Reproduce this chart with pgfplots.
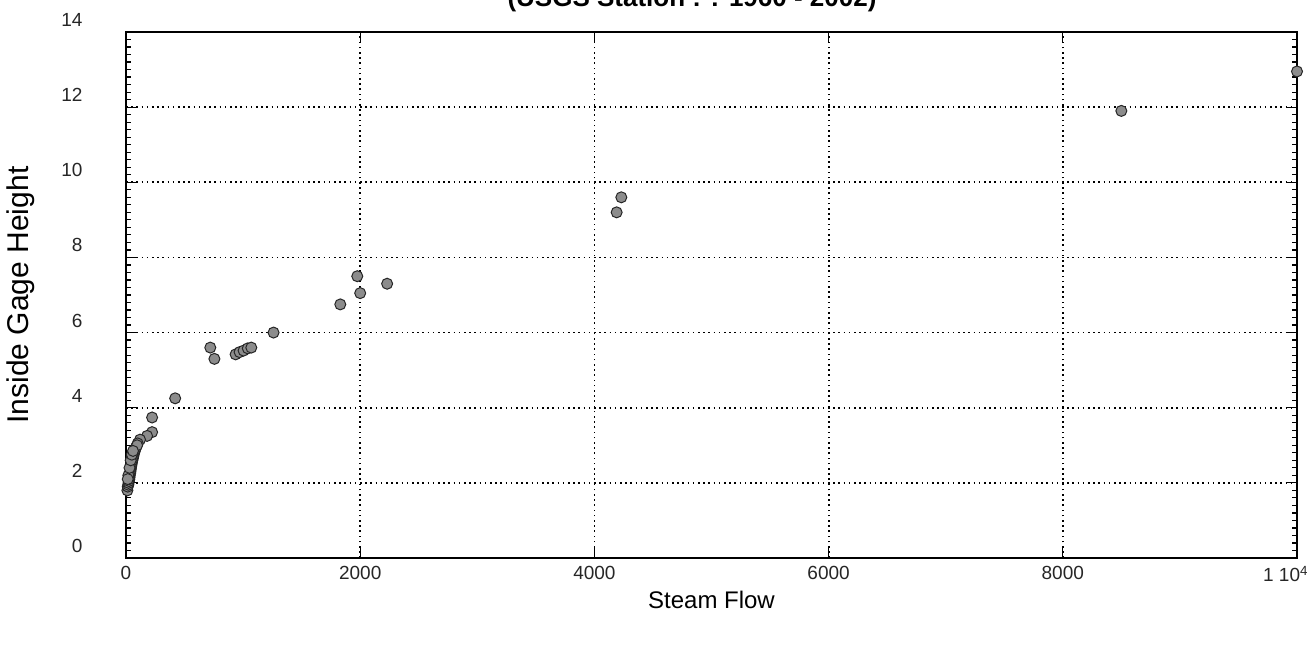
\documentclass[border=0pt]{standalone}
\usepackage{pgfplots}
\pgfplotsset{compat=1.18}
\usepackage{fontspec}
\setmainfont{Liberation Sans}
\begin{document}
\begin{tikzpicture}
\begin{axis}[
  at={(0pt,0pt)}, anchor=south west,
  scale only axis, width=1171pt, height=526pt,
  xmin=0, xmax=10000, ymin=0, ymax=14,
  xtick={0,2000,4000,6000,8000,10000},
  xticklabels={0,2000,4000,6000,8000,{\makebox[22pt][r]{1 10\textsuperscript{4}}}},
  ytick={0,2,4,6,8,10,12,14},
  scaled x ticks=false,
  minor y tick num=9,
  grid=major,
  grid style={black, line width=1.8pt, dash pattern=on 1.6pt off 3.6pt},
  axis line style={black, line width=2pt},
  major tick length=10pt, minor tick length=5pt,
  tick style={black, line width=1.2pt},
  tick align=inside,
  /pgf/number format/assume math mode=true,
  ticklabel style={font=\fontsize{19}{22}\selectfont, text=black!85},
  yticklabel style={xshift=-40pt, yshift=12pt},
  xticklabel style={yshift=-5pt},
  xlabel={Steam Flow},
  ylabel={Inside Gage Height},
  xlabel style={font=\fontsize{24}{28}\selectfont, yshift=-2pt},
  ylabel style={font=\fontsize{30}{34}\selectfont, yshift=20pt},
  clip=false,
]
\addplot[only marks, mark=*, mark size=5.5pt,
  mark options={fill=black!45, draw=black!85, line width=1pt}]
coordinates {
(10000,12.95) (8500,11.9)
(4230,9.6) (4190,9.2)
(1975,7.5) (2000,7.05) (1830,6.75) (2230,7.3)
(1260,6.0)
(720,5.6) (755,5.3) (936,5.42) (970,5.48) (1004,5.52) (1040,5.58) (1070,5.6)
(420,4.25)
(223,3.74) (223,3.35) (180,3.25) (120,3.15) (100,3.05)
(12,1.8) (15,1.9) (20,1.95) (22,2.0) (25,2.05) (28,2.1) (30,2.15) (32,2.2)
(35,2.25) (38,2.3) (40,2.35) (42,2.4) (45,2.45) (48,2.5) (50,2.55) (55,2.6)
(58,2.65) (62,2.7) (65,2.75) (70,2.8) (75,2.85) (80,2.9) (85,2.95) (95,3.0)
(20,2.2) (30,2.4) (40,2.6) (15,2.1) (50,2.75) (60,2.85)
};
\end{axis}
\node[font=\bfseries\fontsize{26}{30}\selectfont, anchor=base] at (566pt,551pt) {(USGS Station : : 1960 - 2002)};
\pgfresetboundingbox
\useasboundingbox (-126pt,-87pt) rectangle (1185pt,558pt);
\end{tikzpicture}
\end{document}
